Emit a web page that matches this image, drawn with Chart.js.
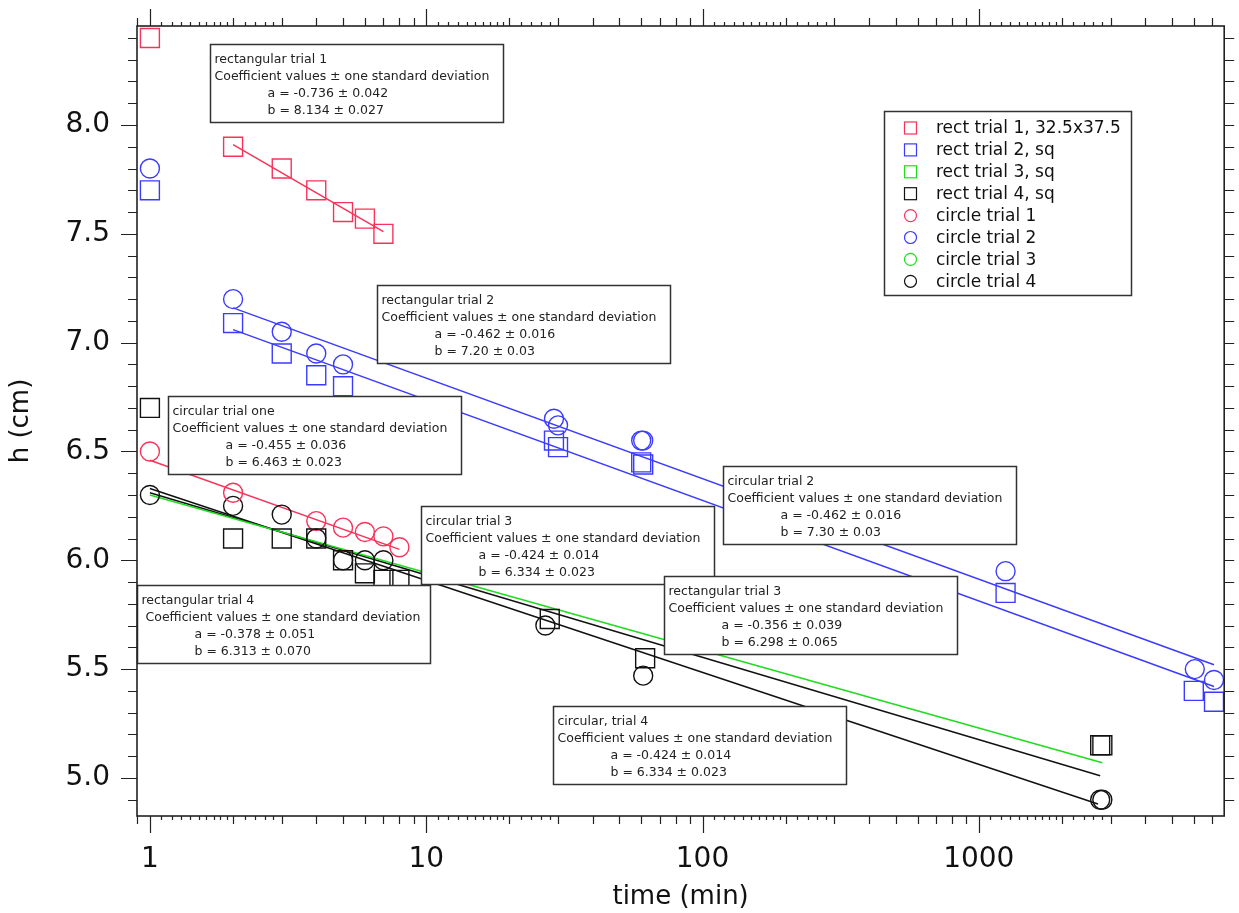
<!DOCTYPE html>
<html>
<head>
<meta charset="utf-8">
<title>h vs time</title>
<script src="https://cdn.jsdelivr.net/npm/chart.js@4.4.1/dist/chart.umd.min.js"></script>
<style>
  html, body { margin: 0; padding: 0; background: #fff; }
  #wrap { width: 1239px; height: 913px; }
</style>
</head>
<body>
<div id="wrap"><canvas id="chart" width="1239" height="913"></canvas></div>
<script>
// ---- data ----
const xTicks = [1, 10, 100, 1000];
const yTicks = [5.0, 5.5, 6.0, 6.5, 7.0, 7.5, 8.0];

// rect trial 1 (red squares)
const rect1Time = [1, 2, 3, 4, 5, 6, 7];
const rect1H    = [8.40, 7.90, 7.80, 7.70, 7.60, 7.57, 7.50];
// rect trial 2 (blue squares)
const rect2Time = [1, 2, 3, 4, 5, 29, 30, 60, 61, 1250, 6000, 7100];
const rect2H    = [7.70, 7.09, 6.95, 6.85, 6.80, 6.55, 6.52, 6.45, 6.44, 5.85, 5.40, 5.35];
// rect trial 3 (green squares) - none visible, hidden under trial 4
const rect3Time = [];
const rect3H    = [];
// rect trial 4 (black squares)
const rect4Time = [1, 2, 3, 4, 5, 6, 7, 8, 28, 62, 2750, 2800];
const rect4H    = [6.70, 6.10, 6.10, 6.10, 6.00, 5.94, 5.91, 5.91, 5.73, 5.55, 5.15, 5.15];
// circle trial 1 (red circles)
const circ1Time = [1, 2, 4, 5, 6, 7, 8];
const circ1H    = [6.50, 6.31, 6.18, 6.15, 6.13, 6.11, 6.06];
// circle trial 2 (blue circles)
const circ2Time = [1, 2, 3, 4, 5, 29, 30, 60, 61, 1250, 6050, 7100];
const circ2H    = [7.80, 7.20, 7.05, 6.95, 6.90, 6.65, 6.62, 6.55, 6.55, 5.95, 5.50, 5.45];
// circle trial 3 (green circles) - none visible
const circ3Time = [];
const circ3H    = [];
// circle trial 4 (black circles)
const circ4Time = [1, 2, 3, 4, 5, 6, 7, 27, 61, 2750, 2800];
const circ4H    = [6.30, 6.25, 6.21, 6.10, 6.00, 6.00, 6.00, 5.70, 5.47, 4.90, 4.90];

// fit lines, end points
const fitRect1Time = [2, 7];      const fitRect1H = [7.91, 7.51];
const fitRect2Time = [2, 7100];   const fitRect2H = [7.06, 5.42];
const fitCirc2Time = [2, 7100];   const fitCirc2H = [7.16, 5.52];
const fitCirc1Time = [1, 8];      const fitCirc1H = [6.46, 6.05];
const fitRect3Time = [1, 2800];   const fitRect3H = [6.30, 5.07];
const fitRect4Time = [1, 2750];   const fitRect4H = [6.31, 5.01];
const fitCirc4Time = [1, 2700];   const fitCirc4H = [6.33, 4.88];

// fit result boxes
const COEF = 'Coefficient values \u00b1 one standard deviation';
const noteTitles = ['rectangular trial 1', 'rectangular trial 2', 'circular trial one', 'circular trial 2',
                    'circular trial 3', 'rectangular trial 4', 'rectangular trial 3', 'circular, trial 4'];
const noteA = ['a = -0.736 \u00b1 0.042', 'a = -0.462 \u00b1 0.016', 'a = -0.455 \u00b1 0.036', 'a = -0.462 \u00b1 0.016',
               'a = -0.424 \u00b1 0.014', 'a = -0.378 \u00b1 0.051', 'a = -0.356 \u00b1 0.039', 'a = -0.424 \u00b1 0.014'];
const noteB = ['b = 8.134 \u00b1 0.027', 'b = 7.20 \u00b1 0.03', 'b = 6.463 \u00b1 0.023', 'b = 7.30 \u00b1 0.03',
               'b = 6.334 \u00b1 0.023', 'b = 6.313 \u00b1 0.070', 'b = 6.298 \u00b1 0.065', 'b = 6.334 \u00b1 0.023'];
// top-left corner of each box, in axis units (time, h)
const noteAnchorT = [1.645, 6.63, 1.161, 119.0, 9.555, 0.898, 72.35, 28.8];
const noteAnchorH = [8.372, 7.265, 6.755, 6.433, 6.249, 5.886, 5.927, 5.330];

// ---- styles ----
const RED = '#f7335a';
const BLUE = '#3b3bff';
const GREEN = '#1fdc1f';
const BLACK = '#111111';
const FONT = '"DejaVu Sans", sans-serif';

function pts(t, h) {
    return t.map((v, i) => ({ x: v, y: h[i] }));
}

function markerSet(label, t, h, color, shape) {
    return {
        label: label,
        data: pts(t, h),
        showLine: false,
        pointStyle: shape,
        pointRadius: shape === 'rect' ? 13.4 : 9.5,
        pointBorderWidth: 1.4,
        pointBorderColor: color,
        pointBackgroundColor: 'rgba(0,0,0,0)',
        borderColor: color,
        inLegend: true
    };
}

function fitSet(t, h, color) {
    return {
        label: '',
        data: pts(t, h),
        showLine: true,
        borderColor: color,
        borderWidth: 1.5,
        pointRadius: 0,
        inLegend: false
    };
}

const datasets = [
    markerSet('rect trial 1, 32.5x37.5', rect1Time, rect1H, RED, 'rect'),
    markerSet('rect trial 2, sq', rect2Time, rect2H, BLUE, 'rect'),
    markerSet('rect trial 3, sq', rect3Time, rect3H, GREEN, 'rect'),
    markerSet('rect trial 4, sq', rect4Time, rect4H, BLACK, 'rect'),
    markerSet('circle trial 1', circ1Time, circ1H, RED, 'circle'),
    markerSet('circle trial 2', circ2Time, circ2H, BLUE, 'circle'),
    markerSet('circle trial 3', circ3Time, circ3H, GREEN, 'circle'),
    markerSet('circle trial 4', circ4Time, circ4H, BLACK, 'circle'),
    fitSet(fitRect1Time, fitRect1H, RED),
    fitSet(fitRect2Time, fitRect2H, BLUE),
    fitSet(fitCirc2Time, fitCirc2H, BLUE),
    fitSet(fitCirc1Time, fitCirc1H, RED),
    fitSet(fitRect3Time, fitRect3H, GREEN),
    fitSet(fitRect4Time, fitRect4H, BLACK),
    fitSet(fitCirc4Time, fitCirc4H, BLACK)
];

// boxes, legend, frame and the Igor style tick marks
const decorPlugin = {
    id: 'decor',
    afterDraw(chart) {
        const { ctx, chartArea: a, scales } = chart;
        const xs = scales.x, ys = scales.y;
        ctx.save();

        // fit result boxes
        ctx.font = '12.5px ' + FONT;
        ctx.textBaseline = 'middle';
        noteTitles.forEach((title, i) => {
            const bx = Math.round(xs.getPixelForValue(noteAnchorT[i])) + 0.5;
            const by = Math.round(ys.getPixelForValue(noteAnchorH[i])) + 0.5;
            const w = 293, h = 78;
            ctx.fillStyle = '#fff';
            ctx.fillRect(bx, by, w, h);
            ctx.strokeStyle = '#333';
            ctx.lineWidth = 1.5;
            ctx.strokeRect(bx, by, w, h);
            ctx.fillStyle = '#222';
            ctx.textAlign = 'left';
            ctx.fillText(title, bx + 4, by + 15);
            ctx.fillText(COEF, bx + (i === 5 ? 8 : 4), by + 32);
            ctx.fillText(noteA[i], bx + 57, by + 49.5);
            ctx.fillText(noteB[i], bx + 57, by + 66.5);
        });

        // legend
        const lx = 884.5, ly = 111.5, lw = 247, lh = 184;
        ctx.fillStyle = '#fff';
        ctx.fillRect(lx, ly, lw, lh);
        ctx.strokeStyle = '#333';
        ctx.lineWidth = 1.5;
        ctx.strokeRect(lx, ly, lw, lh);
        ctx.font = '17px ' + FONT;
        let row = 0;
        chart.data.datasets.forEach(ds => {
            if (!ds.inLegend) return;
            const cy = 128 + row * 21.9;
            ctx.strokeStyle = ds.pointBorderColor;
            ctx.lineWidth = 1.2;
            if (ds.pointStyle === 'rect') {
                ctx.strokeRect(904.5, cy - 6, 12, 12);
            } else {
                ctx.beginPath();
                ctx.arc(910.5, cy, 6, 0, Math.PI * 2);
                ctx.stroke();
            }
            ctx.fillStyle = '#111';
            ctx.fillText(ds.label, 936, cy + 1);
            row++;
        });

        // frame
        ctx.strokeStyle = '#222';
        ctx.lineWidth = 1.6;
        ctx.strokeRect(a.left, a.top, a.right - a.left, a.bottom - a.top);

        // tick marks
        ctx.lineWidth = 1.2;
        ctx.beginPath();
        const xTick = (v, len) => {
            if (v < xs.min || v > xs.max) return;
            const px = Math.round(xs.getPixelForValue(v)) + 0.5;
            ctx.moveTo(px, a.bottom); ctx.lineTo(px, a.bottom + len);
            ctx.moveTo(px, a.top); ctx.lineTo(px, a.top - len);
        };
        for (let d = 0.1; d <= 10000; d *= 10) {
            for (let k = 1; k <= 9; k++) xTick(k * d, k === 1 ? 17 : 8);
            [1.1, 1.2, 1.3, 1.4, 1.5, 1.6, 1.7, 1.8, 1.9, 2.2, 2.4, 2.6, 2.8].forEach(f => xTick(f * d, 4));
        }
        for (let i = 48; i <= 84; i++) {
            const v = i / 10;
            if (v < ys.min || v > ys.max) continue;
            const py = Math.round(ys.getPixelForValue(v)) + 0.5;
            const major = i % 5 === 0;
            ctx.moveTo(a.left, py); ctx.lineTo(a.left - (major ? 16 : 9), py);
            ctx.moveTo(a.right, py); ctx.lineTo(a.right + 10, py);
        }
        ctx.stroke();
        ctx.restore();
    }
};

// stop the tick labels from pushing the plot area in
function noScalePadding(s) {
    s.paddingTop = 0;
    s.paddingBottom = 0;
    s.paddingLeft = 0;
    s.paddingRight = 0;
}

const chart = new Chart(document.getElementById('chart'), {
    type: 'scatter',
    data: { datasets: datasets },
    options: {
        responsive: false,
        animation: false,
        devicePixelRatio: 1,
        layout: { padding: { left: 0, right: 10, top: 26, bottom: 0 } },
        plugins: {
            legend: { display: false },
            tooltip: { enabled: false }
        },
        elements: { line: { tension: 0 } },
        scales: {
            x: {
                type: 'logarithmic',
                min: 0.898,
                max: 7730,
                grid: { display: false, drawTicks: false },
                border: { display: false },
                afterBuildTicks: s => { s.ticks = xTicks.map(v => ({ value: v })); },
                afterFit: s => { s.height = 97; noScalePadding(s); },
                ticks: {
                    padding: 27,
                    color: '#111',
                    font: { family: FONT, size: 28 },
                    maxRotation: 0,
                    autoSkip: false,
                    callback: v => String(v)
                },
                title: {
                    display: true,
                    text: 'time (min)',
                    color: '#111',
                    font: { family: FONT, size: 26 },
                    padding: { top: 0, bottom: 0 }
                }
            },
            y: {
                type: 'linear',
                min: 4.825,
                max: 8.455,
                grid: { display: false, drawTicks: false },
                border: { display: false },
                afterBuildTicks: s => { s.ticks = yTicks.map(v => ({ value: v })); },
                afterFit: s => { s.width = 137; noScalePadding(s); },
                ticks: {
                    padding: 27,
                    color: '#111',
                    font: { family: FONT, size: 28 },
                    callback: v => Number(v).toFixed(1)
                },
                title: {
                    display: true,
                    text: 'h (cm)',
                    color: '#111',
                    font: { family: FONT, size: 26 },
                    padding: { top: 6, bottom: 0 }
                }
            }
        }
    },
    plugins: [decorPlugin]
});
</script>
</body>
</html>
